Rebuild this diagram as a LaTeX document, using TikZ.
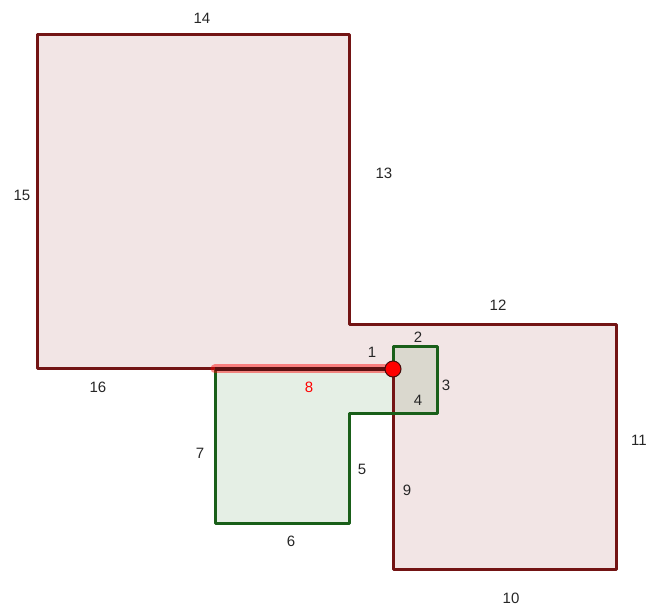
\documentclass[tikz,border=0pt]{standalone}
\usepackage{fontspec}
\setmainfont{Liberation Sans}
\begin{document}
\begin{tikzpicture}[x=1pt,y=-1pt,
  lbl/.style={font=\fontsize{15}{18}\selectfont,text=black!85,inner sep=0pt},
  maroonline/.style={draw=maroonc,line width=3pt,line join=round},
  greenline/.style={draw=greenc,line width=3pt,line join=round}]
\definecolor{maroonc}{RGB}{115,20,20}
\definecolor{greenc}{RGB}{25,95,25}
\definecolor{maroonfill}{RGB}{128,0,0}
\definecolor{greenfill}{RGB}{0,100,0}
\useasboundingbox (0,0) rectangle (649,609);
% vertices
\coordinate (P) at (393,369);
\coordinate (A1) at (37,35);
\coordinate (A2) at (349,35);
\coordinate (A3) at (349,325);
\coordinate (A4) at (616,325);
\coordinate (A5) at (616,570);
\coordinate (A6) at (393,570);
\coordinate (A7) at (37,369);
\coordinate (G1) at (393,347);
\coordinate (G2) at (437,347);
\coordinate (G3) at (437,414);
\coordinate (G4) at (349,414);
\coordinate (G5) at (349,524);
\coordinate (G6) at (215,524);
\coordinate (G7) at (215,369);
% fills
\fill[maroonfill,fill opacity=0.1] (P) -- (A6) -- (A5) -- (A4) -- (A3) -- (A2) -- (A1) -- (A7) -- cycle;
\fill[greenfill,fill opacity=0.1] (P) -- (G1) -- (G2) -- (G3) -- (G4) -- (G5) -- (G6) -- (G7) -- cycle;
% outlines
\draw[maroonline] (P) -- (A6) -- (A5) -- (A4) -- (A3) -- (A2) -- (A1) -- (A7) -- cycle;
\draw[greenline] (P) -- (G1) -- (G2) -- (G3) -- (G4) -- (G5) -- (G6) -- (G7);
% highlight of edge 8
\draw[red,opacity=0.45,line width=9pt,line cap=round] (G7) -- (P);
\draw[maroonc!80!black,line width=4.5pt] (G7) -- (P);
% point
\node[circle,fill=red,draw=maroonc!60!black,line width=1pt,minimum size=16pt,inner sep=0pt] (pt) at (P) {};
% labels
\node[lbl] (l1) at (372,352) {1};
\node[lbl] (l2) at (418,337) {2};
\node[lbl] (l3) at (446,385) {3};
\node[lbl] (l4) at (418,400) {4};
\node[lbl] (l5) at (362,469) {5};
\node[lbl] (l6) at (291,541) {6};
\node[lbl] (l7) at (200,453) {7};
\node[lbl,text=red] (l8) at (309,387) {8};
\node[lbl] (l9) at (407,490) {9};
\node[lbl] (l10) at (511,598) {10};
\node[lbl] (l11) at (639,440) {11};
\node[lbl] (l12) at (498,305) {12};
\node[lbl] (l13) at (384,173) {13};
\node[lbl] (l14) at (202,18) {14};
\node[lbl] (l15) at (22,195) {15};
\node[lbl] (l16) at (98,387) {16};
\end{tikzpicture}
\end{document}
